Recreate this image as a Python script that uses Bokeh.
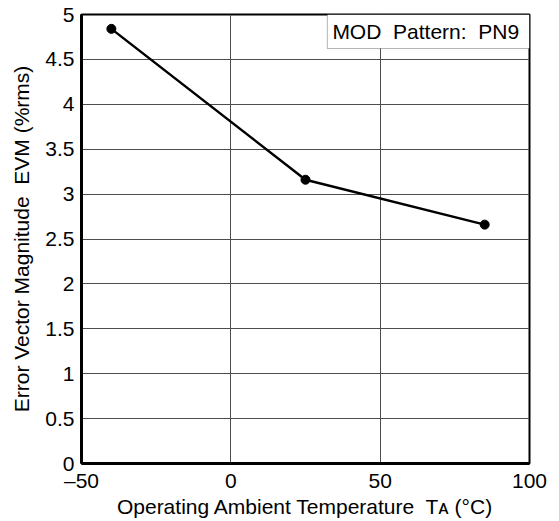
from bokeh.plotting import figure
from bokeh.models import Range1d, FixedTicker, Label, BoxAnnotation
from bokeh.embed import file_html
from bokeh.resources import INLINE

# EVM versus ambient temperature
temperature_c = [-40, 25, 85]
evm_pct_rms = [4.84, 3.16, 2.66]

x_ticks = [-50, 0, 50, 100]
x_tick_labels = ["\u201350", "0", "50", "100"]
y_ticks = [0, 0.5, 1, 1.5, 2, 2.5, 3, 3.5, 4, 4.5, 5]
y_tick_labels = ["0", "0.5", "1", "1.5", "2", "2.5", "3", "3.5", "4", "4.5", "5"]

NB = "\u00a0"  # keeps the doubled spaces in SVG text
FONT = "Liberation Sans"
FS = "21px"

p = figure(width=559, height=521, output_backend="svg", toolbar_location=None,
           x_range=Range1d(-50, 100), y_range=Range1d(0, 5),
           min_border_left=81, min_border_right=30, min_border_top=14, min_border_bottom=58)
p.background_fill_color = "white"
p.border_fill_color = "white"
p.outline_line_color = "black"
p.outline_line_width = 2

p.xaxis.ticker = FixedTicker(ticks=x_ticks)
p.xaxis.major_label_overrides = dict(zip(x_ticks, x_tick_labels))
p.yaxis.ticker = FixedTicker(ticks=y_ticks)
p.yaxis.major_label_overrides = dict(zip(y_ticks, y_tick_labels))

for ax in (p.xaxis, p.yaxis):
    ax.axis_line_color = "black"
    ax.axis_line_width = 3
    ax.major_tick_line_color = None
    ax.minor_tick_line_color = None
    ax.major_label_text_font = FONT
    ax.major_label_text_font_size = FS
    ax.major_label_text_color = "black"
    ax.axis_label_text_font = FONT
    ax.axis_label_text_font_size = FS
    ax.axis_label_text_font_style = "normal"
    ax.axis_label_text_color = "black"

p.xaxis.major_label_standoff = -1
p.yaxis.major_label_standoff = 1

p.yaxis.axis_label = "Error Vector Magnitude" + NB + " EVM (%rms)"
p.yaxis.axis_label_standoff = 9
p.xaxis.axis_label = "Operating Ambient Temperature" + NB + " T\u1d00 (\u00b0C)"
p.xaxis.axis_label_standoff = 0

p.grid.grid_line_color = "#4d4d4d"
p.grid.grid_line_width = 1
p.xgrid.ticker = FixedTicker(ticks=[0, 50])
p.ygrid.ticker = FixedTicker(ticks=y_ticks[1:-1])

p.line(temperature_c, evm_pct_rms, line_color="black", line_width=2.5)
p.scatter(temperature_c, evm_pct_rms, size=9, fill_color="black", line_color="black")

# condition box in the upper right corner
p.add_layout(BoxAnnotation(left=32.3, right=100, bottom=4.621, top=5,
                           fill_color="white", fill_alpha=1.0,
                           line_color="black", line_width=1))
p.add_layout(Label(x=34.0, y=4.811, text="MOD" + NB + " Pattern:" + NB + " PN9",
                   text_font=FONT, text_font_size=FS, text_color="black",
                   text_baseline="middle", text_align="left"))

open("out.html", "w").write(file_html(p, INLINE))
